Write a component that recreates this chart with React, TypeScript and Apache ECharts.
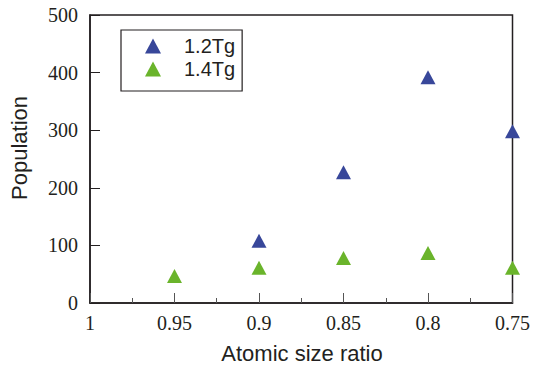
import React, { useEffect, useRef } from "react";
import * as echarts from "echarts";

// Population of clusters against atomic size ratio, for two temperatures
const ratios12: number[] = [0.9, 0.85, 0.8, 0.75];
const population12: number[] = [108, 227, 392, 298];
const ratios14: number[] = [0.95, 0.9, 0.85, 0.8, 0.75];
const population14: number[] = [47, 61, 78, 87, 61];
const seriesNames: string[] = ["1.2Tg", "1.4Tg"];
const xTitle = "Atomic size ratio";
const yTitle = "Population";

const BLUE = "#38479a";
const GREEN = "#6ab42b";
const INK = "#231f20";
const SERIF = "'Liberation Serif', 'Times New Roman', serif";
const SANS = "'Liberation Sans', Arial, sans-serif";

export default function App() {
  const ref = useRef<HTMLDivElement>(null);

  useEffect(() => {
    if (!ref.current) return;
    const chart = echarts.init(ref.current, null, { renderer: "svg" });

    const pairs = (xs: number[], ys: number[]) => xs.map((x, i) => [x, ys[i]]);

    chart.setOption({
      animation: false,
      backgroundColor: "#ffffff",
      grid: {
        left: 90,
        right: 18,
        top: 15,
        bottom: 62,
        show: true,
        borderColor: INK,
        borderWidth: 1.5,
      },
      legend: {
        left: 121,
        top: 30,
        orient: "vertical",
        borderColor: INK,
        borderWidth: 1.2,
        padding: [6, 7, 12, 24],
        itemWidth: 16,
        itemHeight: 15,
        itemGap: 3,
        textStyle: {
          fontFamily: SANS,
          fontSize: 20,
          lineHeight: 20,
          color: INK,
          padding: [0, 0, 0, 18],
        },
        data: seriesNames.map((n) => ({ name: n, icon: "triangle" })),
      },
      xAxis: {
        type: "value",
        min: 0.75,
        max: 1,
        interval: 0.05,
        inverse: true,
        axisLine: { show: true, lineStyle: { color: INK, width: 1.5 } },
        axisTick: { show: true, inside: true, length: 10, lineStyle: { color: "#555", width: 1 } },
        minorTick: { show: true, splitNumber: 2, length: 5, lineStyle: { color: "#555", width: 1 } },
        splitLine: { show: false },
        axisLabel: {
          fontFamily: SERIF,
          fontSize: 20,
          color: INK,
          margin: 10,
        },
      },
      yAxis: {
        type: "value",
        min: 0,
        max: 500,
        interval: 100,
        axisLine: { show: true, lineStyle: { color: INK, width: 1.5 } },
        axisTick: { show: true, inside: true, length: 10, lineStyle: { color: INK, width: 1 } },
        splitLine: { show: false },
        axisLabel: {
          fontFamily: SERIF,
          fontSize: 20,
          color: INK,
          margin: 12,
        },
      },
      graphic: [
        {
          type: "text",
          x: 302,
          y: 353,
          style: {
            text: xTitle,
            fontFamily: SANS,
            fontSize: 22,
            fill: INK,
            align: "center",
            verticalAlign: "middle",
          },
        },
        {
          type: "text",
          x: 19,
          y: 148,
          rotation: Math.PI / 2,
          style: {
            text: yTitle,
            fontFamily: SANS,
            fontSize: 22,
            fill: INK,
            align: "center",
            verticalAlign: "middle",
          },
        },
      ],
      series: [
        {
          name: seriesNames[0],
          type: "scatter",
          symbol: "triangle",
          symbolSize: [15, 14],
          itemStyle: { color: BLUE, opacity: 1 },
          data: pairs(ratios12, population12),
        },
        {
          name: seriesNames[1],
          type: "scatter",
          symbol: "triangle",
          symbolSize: [15, 14],
          itemStyle: { color: GREEN, opacity: 1 },
          data: pairs(ratios14, population14),
        },
      ],
    });

    return () => chart.dispose();
  }, []);

  return (
    <div
      ref={ref}
      style={{ position: "fixed", left: 0, top: 0, width: 533, height: 365 }}
    />
  );
}
